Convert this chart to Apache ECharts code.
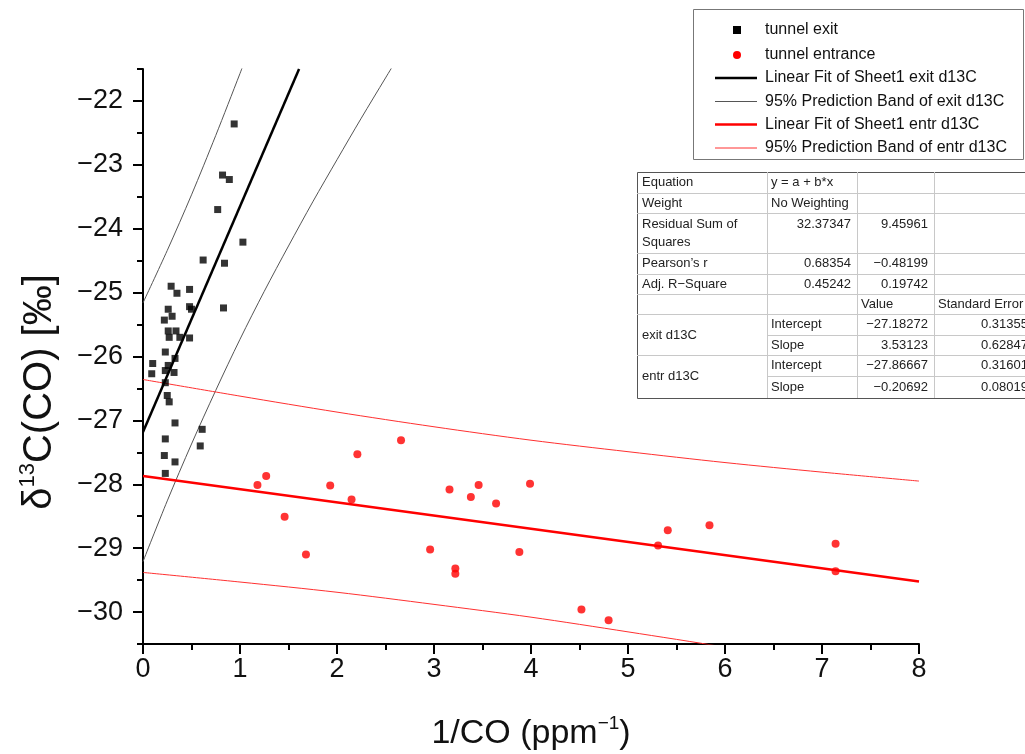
<!DOCTYPE html>
<html>
<head>
<meta charset="utf-8">
<script src="https://cdn.jsdelivr.net/npm/echarts@6.0.0/dist/echarts.min.js"></script>
<style>
html,body{margin:0;padding:0;background:#fff;}
#chart{width:1025px;height:754px;}
</style>
</head>
<body>
<div id="chart"></div>
<script>
// ---------------- data ----------------
const exitX = [0.94,0.82,0.89,0.77,1.03,0.62,0.84,0.29,0.35,0.48,0.26,0.48,0.50,0.83,0.22,0.30,0.26,0.34,0.27,0.38,0.48,0.23,0.33,0.10,0.26,0.09,0.23,0.32,0.23,0.25,0.27,0.33,0.61,0.23,0.59,0.22,0.33,0.23];
const exitY = [-22.36,-23.16,-23.23,-23.70,-24.21,-24.49,-24.54,-24.90,-25.01,-24.95,-25.26,-25.22,-25.26,-25.24,-25.43,-25.37,-25.60,-25.60,-25.70,-25.70,-25.71,-25.93,-26.03,-26.11,-26.14,-26.27,-26.22,-26.25,-26.41,-26.61,-26.71,-27.04,-27.14,-27.29,-27.40,-27.55,-27.65,-27.83];
const entrX = [1.18,1.27,1.46,1.68,1.93,2.15,2.21,2.66,2.96,3.16,3.22,3.22,3.38,3.46,3.64,3.88,3.99,4.52,4.80,5.31,5.41,5.84,7.14,7.14];
const entrY = [-28.01,-27.87,-28.51,-29.10,-28.02,-28.24,-27.53,-27.31,-29.02,-28.08,-29.32,-29.40,-28.20,-28.01,-28.30,-29.06,-27.99,-29.96,-30.13,-28.96,-28.72,-28.64,-28.93,-29.36];

// fitted lines (end points)
const exitFitX = [0, 1.609];
const exitFitY = [-27.18, -21.50];
const entrFitX = [0, 8];
const entrFitY = [-27.87, -29.52];

// 95% prediction bands
const exitUpX = [0, 0.25, 0.5, 0.75, 1.0, 1.05];
const exitUpY = [-25.16, -24.34, -23.47, -22.54, -21.57, -21.37];
const exitLoX = [0, 0.25, 0.5, 0.75, 1.0, 1.25, 1.5, 1.75, 2.0, 2.25, 2.5, 2.6];
const exitLoY = [-29.21, -28.26, -27.37, -26.53, -25.73, -24.98, -24.27, -23.58, -22.92, -22.27, -21.64, -21.39];
const entrBandX = [0, 1, 2, 3, 4, 5, 6, 7, 8];
const entrUpY = [-26.36, -26.62, -26.87, -27.10, -27.31, -27.49, -27.66, -27.81, -27.95];
const entrLoY = [-29.38, -29.53, -29.69, -29.88, -30.08, -30.31, -30.55, -30.82, -31.09];

// axis ticks
const xTicks = [0, 1, 2, 3, 4, 5, 6, 7, 8];
const yTicks = [-30, -29, -28, -27, -26, -25, -24, -23, -22];
const yMinorTicks = [-30.5, -29.5, -28.5, -27.5, -26.5, -25.5, -24.5, -23.5, -22.5, -21.5];

// legend names
const legendNames = ['tunnel exit', 'tunnel entrance', 'Linear Fit of Sheet1 exit d13C',
  '95% Prediction Band of exit d13C', 'Linear Fit of Sheet1 entr d13C', '95% Prediction Band of entr d13C'];

// fit table text
const tableCol0 = ['Equation', 'Weight', 'Residual Sum of\nSquares', 'Pearson\u2019s r', 'Adj. R\u2212Square', '', 'exit d13C', 'entr d13C'];
const tableCol1 = ['y = a + b*x', 'No Weighting', '32.37347', '0.68354', '0.45242', '', 'Intercept', 'Slope', 'Intercept', 'Slope'];
const tableCol2 = ['', '', '9.45961', '\u22120.48199', '0.19742', 'Value', '\u221227.18272', '3.53123', '\u221227.86667', '\u22120.20692'];
const tableCol3 = ['', '', '', '', '', 'Standard Error', '0.31355', '0.62847', '0.31601', '0.08019'];

// ---------------- build ----------------
const zip = (xs, ys) => xs.map((x, i) => [x, ys[i]]);
const FONT = 'Liberation Sans';

const chart = echarts.init(document.getElementById('chart'), null, {renderer: 'canvas'});

const graphics = [];
// legend box
const LX = 693, LY = 9;
graphics.push({type: 'rect', z: 100, shape: {x: LX + 0.5, y: LY + 0.5, width: 330, height: 150},
  style: {fill: '#fff', stroke: '#777', lineWidth: 1}});
const rowsY = [30, 55, 78, 101.5, 124.5, 148];
const sx0 = 715, sx1 = 757, scx = 737;
graphics.push({type: 'rect', z: 101, shape: {x: scx - 4, y: rowsY[0] - 4, width: 8, height: 8}, style: {fill: '#000'}});
graphics.push({type: 'circle', z: 101, shape: {cx: scx, cy: rowsY[1], r: 4}, style: {fill: '#ff0000'}});
const lineStyles = [null, null, {stroke: '#000', lineWidth: 2.5}, {stroke: '#555', lineWidth: 1},
  {stroke: '#ff0000', lineWidth: 2.5}, {stroke: '#ff3030', lineWidth: 1}];
for (let i = 2; i < 6; i++) {
  graphics.push({type: 'line', z: 101, shape: {x1: sx0, y1: rowsY[i], x2: sx1, y2: rowsY[i]}, style: lineStyles[i]});
}
legendNames.forEach((n, i) => {
  graphics.push({type: 'text', z: 101, x: 765, y: rowsY[i],
    style: {text: n, fontFamily: FONT, fontSize: 16, fill: '#111', verticalAlign: 'middle', align: 'left'}});
});

// fit table
const TR = [172, 193, 213, 253, 274, 294, 314, 335, 355, 376, 398];
const TC = [637, 767, 857, 934, 1034];
graphics.push({type: 'rect', z: 100, shape: {x: TC[0] + 0.5, y: TR[0] + 0.5, width: TC[4] - TC[0], height: TR[10] - TR[0]},
  style: {fill: '#fff', stroke: '#555', lineWidth: 1}});
for (let r = 1; r < 10; r++) {
  const startX = (r === 7 || r === 9) ? TC[1] : TC[0];
  graphics.push({type: 'line', z: 101, shape: {x1: startX, y1: TR[r] + 0.5, x2: TC[4], y2: TR[r] + 0.5},
    style: {stroke: '#c8c8c8', lineWidth: 1}});
}
for (let c = 1; c < 4; c++) {
  graphics.push({type: 'line', z: 101, shape: {x1: TC[c] + 0.5, y1: TR[0], x2: TC[c] + 0.5, y2: TR[10]},
    style: {stroke: '#c8c8c8', lineWidth: 1}});
}
const tText = (t, x, y, align, vAlign) => graphics.push({type: 'text', z: 102, x: x, y: y,
  style: {text: t, fontFamily: FONT, fontSize: 13, fill: '#222', align: align, verticalAlign: vAlign || 'middle', lineHeight: 18}});
const rowMid = r => (TR[r] + TR[r + 1]) / 2;
// column 0
tText(tableCol0[0], TC[0] + 5, rowMid(0), 'left');
tText(tableCol0[1], TC[0] + 5, rowMid(1), 'left');
tText(tableCol0[2], TC[0] + 5, TR[2] + 2, 'left', 'top');
tText(tableCol0[3], TC[0] + 5, rowMid(3), 'left');
tText(tableCol0[4], TC[0] + 5, rowMid(4), 'left');
tText(tableCol0[6], TC[0] + 5, TR[7], 'left');
tText(tableCol0[7], TC[0] + 5, TR[9], 'left');
// columns 1..3
[tableCol1, tableCol2, tableCol3].forEach((col, ci) => {
  col.forEach((t, i) => {
    if (!t) return;
    const isNum = /^[\u22120-9.]+$/.test(t);
    const y = i === 2 ? TR[2] + 2 : rowMid(i);
    const v = i === 2 ? 'top' : 'middle';
    if (isNum) tText(t, TC[ci + 2] - 6, y, 'right', v);
    else tText(t, TC[ci + 1] + 4, y, 'left', v);
  });
});

// y-axis title
graphics.push({type: 'text', z: 50, x: 40, y: 392, rotation: Math.PI / 2,
  style: {text: '{a|\u03b4}{s|13}{a|C(CO) [\u2030]}', align: 'center', verticalAlign: 'middle',
    rich: {a: {fontFamily: FONT, fontSize: 40, fill: '#111', lineHeight: 46},
           s: {fontFamily: FONT, fontSize: 22, fill: '#111', verticalAlign: 'top', lineHeight: 46, padding: [0, 0, 16, 0]}}}});

const yFmt = v => String(v).replace('-', '\u2212');

const option = {
  backgroundColor: '#fff',
  animation: false,
  grid: {left: 143, right: 106, top: 69, bottom: 110, containLabel: false, outerBoundsMode: 'none'},
  xAxis: {
    type: 'value', min: 0, max: 8, interval: 1,
    name: '{a|1/CO (ppm}{s|\u22121}{a|)}',
    nameLocation: 'middle', nameGap: 70,
    nameTextStyle: {rich: {a: {fontFamily: FONT, fontSize: 34, color: '#111', lineHeight: 40},
                           s: {fontFamily: FONT, fontSize: 19, color: '#111', verticalAlign: 'top', lineHeight: 40, padding: [0, 0, 14, 0]}}},
    axisLine: {show: true, onZero: false, lineStyle: {color: '#000', width: 2}},
    axisTick: {show: true, inside: false, length: 10, lineStyle: {color: '#000', width: 2}},
    minorTick: {show: true, splitNumber: 2, length: 6, lineStyle: {color: '#000', width: 2}},
    axisLabel: {fontFamily: FONT, fontSize: 27, color: '#111', margin: 12, customValues: xTicks},
    splitLine: {show: false}, minorSplitLine: {show: false}
  },
  yAxis: [{
    type: 'value', min: -30.5, max: -21.5,
    axisLine: {show: true, onZero: false, lineStyle: {color: '#000', width: 2}},
    axisTick: {show: true, inside: false, length: 10, customValues: yTicks, lineStyle: {color: '#000', width: 2}},
    axisLabel: {fontFamily: FONT, fontSize: 27, color: '#111', margin: 20, customValues: yTicks, formatter: yFmt},
    splitLine: {show: false}
  }, {
    type: 'value', min: -30.5, max: -21.5, position: 'left',
    axisLine: {show: false, onZero: false},
    axisTick: {show: true, inside: false, length: 6, customValues: yMinorTicks, lineStyle: {color: '#000', width: 2}},
    axisLabel: {show: false},
    splitLine: {show: false}
  }],
  graphic: graphics,
  series: [
    {name: legendNames[3], type: 'line', data: zip(exitUpX, exitUpY), smooth: 0.3, symbol: 'none', clip: true,
      lineStyle: {color: '#555', width: 1}, z: 3},
    {name: legendNames[3], type: 'line', data: zip(exitLoX, exitLoY), smooth: 0.3, symbol: 'none', clip: true,
      lineStyle: {color: '#555', width: 1}, z: 3},
    {name: legendNames[5], type: 'line', data: zip(entrBandX, entrUpY), smooth: 0.3, symbol: 'none', clip: true,
      lineStyle: {color: '#ff3030', width: 1}, z: 3},
    {name: legendNames[5], type: 'line', data: zip(entrBandX, entrLoY), smooth: 0.3, symbol: 'none', clip: true,
      lineStyle: {color: '#ff3030', width: 1}, z: 3},
    {name: legendNames[2], type: 'line', data: zip(exitFitX, exitFitY), symbol: 'none', clip: true,
      lineStyle: {color: '#000', width: 2.5}, z: 4},
    {name: legendNames[4], type: 'line', data: zip(entrFitX, entrFitY), symbol: 'none', clip: true,
      lineStyle: {color: '#ff0000', width: 2.5}, z: 4},
    {name: legendNames[0], type: 'scatter', data: zip(exitX, exitY), symbol: 'rect', symbolSize: 7,
      itemStyle: {color: '#000'}, z: 5},
    {name: legendNames[1], type: 'scatter', data: zip(entrX, entrY), symbol: 'circle', symbolSize: 8,
      itemStyle: {color: '#ff0000'}, z: 5}
  ]
};
chart.setOption(option);
</script>
</body>
</html>
